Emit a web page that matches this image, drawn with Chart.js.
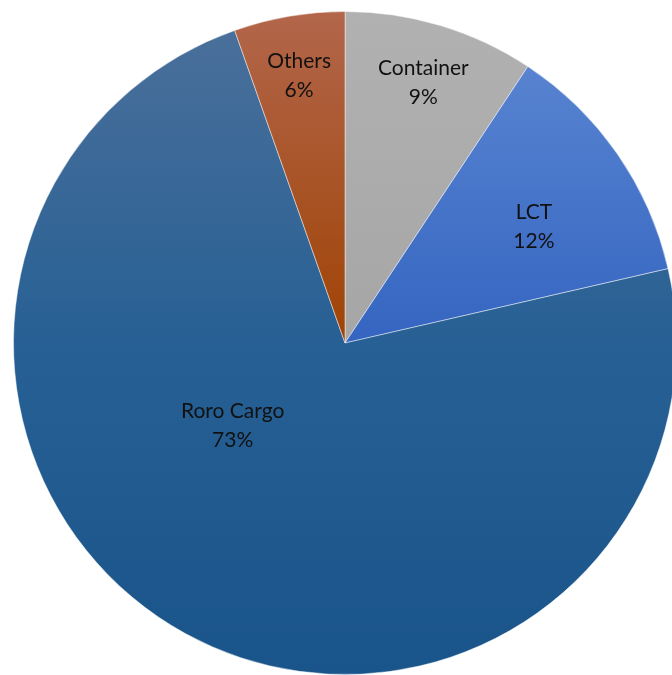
<!DOCTYPE html>
<html>
<head>
<meta charset="utf-8">
<script src="https://cdn.jsdelivr.net/npm/chart.js@4.4.1/dist/chart.umd.min.js"></script>
<style>
  html, body { margin: 0; padding: 0; background: #fff; overflow: hidden; width: 672px; height: 675px; }
  #wrap { position: absolute; left: 0; top: -2px; width: 690px; height: 690px; }
</style>
</head>
<body>
<div id="wrap"><canvas id="pie"></canvas></div>
<script>
const categories = ['Container', 'LCT', 'Roro Cargo', 'Others'];
const shares = [9.3, 12.1, 73.2, 5.4];
const percentLabels = ['9%', '12%', '73%', '6%'];

// gradient stops per slice: [top colour, middle colour, bottom colour]
const sliceColors = [
  ['#b1b1b1', '#a6a6a6', '#a0a0a0'],
  ['#5e89d3', '#3565c1', '#3060b8'],
  ['#4c709b', '#276094', '#19548a'],
  ['#b2664b', '#a04305', '#983e00']
];
// label position as fraction of radius, and angle tweak in degrees
const labelRadius = [0.82, 0.67, 0.42, 0.82];
const labelShift = [0, 3, 25, 0];

const sliceLabels = {
  id: 'sliceLabels',
  afterDatasetsDraw(chart) {
    const ctx = chart.ctx;
    const meta = chart.getDatasetMeta(0);
    ctx.save();
    ctx.font = '21px Lato, "Open Sans", sans-serif';
    ctx.fillStyle = '#111';
    ctx.textAlign = 'center';
    ctx.textBaseline = 'middle';
    meta.data.forEach((arc, i) => {
      const mid = (arc.startAngle + arc.endAngle) / 2 + labelShift[i] * Math.PI / 180;
      const r = arc.outerRadius * labelRadius[i];
      const x = arc.x + Math.cos(mid) * r;
      const y = arc.y + Math.sin(mid) * r;
      ctx.fillText(categories[i], x, y - 14);
      ctx.fillText(percentLabels[i], x, y + 15);
    });
    ctx.restore();
  }
};

new Chart(document.getElementById('pie'), {
  type: 'pie',
  data: {
    labels: categories,
    datasets: [{
      data: shares,
      backgroundColor: (c) => {
        const area = c.chart.chartArea;
        if (!area) return sliceColors[c.dataIndex][1];
        const g = c.chart.ctx.createLinearGradient(0, area.top, 0, area.bottom);
        const cols = sliceColors[c.dataIndex];
        g.addColorStop(0, cols[0]);
        g.addColorStop(0.5, cols[1]);
        g.addColorStop(1, cols[2]);
        return g;
      },
      borderColor: 'rgba(255,255,255,0.45)',
      borderWidth: 1
    }]
  },
  options: {
    responsive: true,
    maintainAspectRatio: false,
    animation: false,
    layout: { padding: 13 },
    plugins: {
      legend: { display: false },
      tooltip: { enabled: false }
    }
  },
  plugins: [sliceLabels]
});
</script>
</body>
</html>
